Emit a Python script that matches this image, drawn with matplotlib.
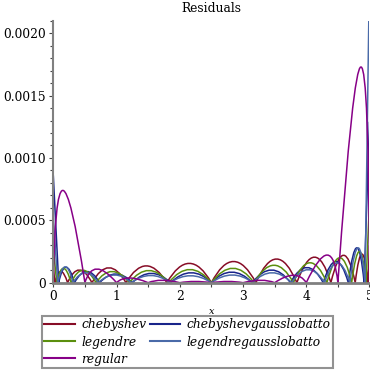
import matplotlib
matplotlib.use('Agg')
import matplotlib.pyplot as plt
from matplotlib.path import Path
from matplotlib.patches import PathPatch
from matplotlib.lines import Line2D
from matplotlib.ticker import MultipleLocator, FuncFormatter

plt.rcParams['font.family'] = 'DejaVu Serif'
plt.rcParams['font.size'] = 8.8

# each series: zeros of |residual| (the nodes), position/height of every arc
# between two zeros, and the residual at x=0 and x=5
names = ['chebyshev', 'chebyshevgausslobatto', 'legendre',
         'legendregausslobatto', 'regular']
colors = ['#870c26', '#19248a', '#5b8f0e', '#4a6aa8', '#870087']

chebyshev_zeros = [0.026, 0.226, 0.611, 1.149, 1.796, 2.5, 3.204, 3.851, 4.389, 4.774, 4.975]
chebyshev_peak_x = [0.12, 0.41, 0.88, 1.47, 2.15, 2.85, 3.53, 4.13, 4.59, 4.88]
chebyshev_peak_y = [0.00009, 0.000102, 0.00012, 0.000135, 0.000155, 0.00017,
                    0.00019, 0.000205, 0.00022, 0.00023]
chebyshev_ends = [0.00012, 0.0003]

cgl_zeros = [0.085, 0.335, 0.732, 1.25, 1.853, 2.5, 3.147, 3.75, 4.268, 4.665, 4.915]
cgl_peak_x = [0.2, 0.53, 0.99, 1.55, 2.18, 2.82, 3.45, 4.01, 4.47, 4.80]
cgl_peak_y = [0.000125, 0.00009, 0.00007, 0.000075, 0.00008, 0.000085,
              0.000102, 0.000122, 0.00017, 0.00028]
cgl_ends = [0.00086, 0.00129]

legendre_zeros = [0.055, 0.282, 0.675, 1.203, 1.826, 2.5, 3.174, 3.797, 4.326, 4.718, 4.946]
legendre_peak_x = [0.16, 0.47, 0.93, 1.51, 2.16, 2.84, 3.49, 4.06, 4.53, 4.84]
legendre_peak_y = [0.000116, 0.0001, 0.00009, 0.000098, 0.000106, 0.000116,
                   0.00014, 0.00016, 0.0002, 0.00025]
legendre_ends = [0.00027, 0.00066]

lgl_zeros = [0.07, 0.31, 0.71, 1.23, 1.845, 2.5, 3.155, 3.77, 4.29, 4.69, 4.93]
lgl_peak_x = [0.19, 0.51, 0.97, 1.54, 2.17, 2.83, 3.46, 4.03, 4.49, 4.82]
lgl_peak_y = [0.000128, 0.00008, 0.000062, 0.000058, 0.000056, 0.000062,
              0.00008, 0.000105, 0.000158, 0.00028]
lgl_ends = [0.00052, 0.0025]

regular_zeros = [0.0, 0.5, 1.0, 1.5, 2.0, 2.5, 3.0, 3.5, 4.0, 4.5, 5.0]
regular_peak_x = [0.15, 0.69, 1.2, 1.72, 2.24, 2.76, 3.28, 3.8, 4.33, 4.865]
regular_peak_y = [0.00074, 0.00011, 0.000038, 0.00002, 0.00001, 0.00001,
                  0.00002, 0.00006, 0.000222, 0.00173]
regular_ends = [0.0, 0.0]

series = [
    (chebyshev_zeros, chebyshev_peak_x, chebyshev_peak_y, chebyshev_ends),
    (cgl_zeros, cgl_peak_x, cgl_peak_y, cgl_ends),
    (legendre_zeros, legendre_peak_x, legendre_peak_y, legendre_ends),
    (lgl_zeros, lgl_peak_x, lgl_peak_y, lgl_ends),
    (regular_zeros, regular_peak_x, regular_peak_y, regular_ends),
]


def residual_path(zeros, peak_x, peak_y, ends):
    # one quadratic bezier per arc, peaking at (peak_x, peak_y)
    verts = [(0.0, ends[0]), (zeros[0], 0.0)]
    codes = [Path.MOVETO, Path.LINETO]
    for a, b, px, py in zip(zeros[:-1], zeros[1:], peak_x, peak_y):
        verts += [(2 * px - (a + b) / 2, 2 * py), (b, 0.0)]
        codes += [Path.CURVE3, Path.CURVE3]
    verts.append((5.0, ends[1]))
    codes.append(Path.LINETO)
    return Path(verts, codes)


fig = plt.figure(figsize=(3.7, 3.7), dpi=100)
ax = fig.add_axes([53.3 / 370, 87.3 / 370, 316.2 / 370, 262 / 370])

for (z, px, py, e), c in zip(series, colors):
    ax.add_patch(PathPatch(residual_path(z, px, py, e), fill=False,
                           edgecolor=c, lw=1.1, joinstyle='round'))

ax.set_xlim(0, 5)
ax.set_ylim(0, 0.0021)
ax.set_title('Residuals', fontsize=8.8, pad=6)
ax.set_xlabel('x', fontsize=7, style='italic', labelpad=3)

for s in ['top', 'right']:
    ax.spines[s].set_visible(False)
ax.spines['bottom'].set_color('#808080')
ax.spines['bottom'].set_linewidth(2)
ax.spines['left'].set_color('#808080')
ax.spines['left'].set_linewidth(1.5)

ax.xaxis.set_major_locator(MultipleLocator(1))
ax.xaxis.set_minor_locator(MultipleLocator(0.5))
ax.yaxis.set_major_locator(MultipleLocator(0.0005))
ax.yaxis.set_minor_locator(MultipleLocator(0.0001))
ax.yaxis.set_major_formatter(FuncFormatter(lambda v, p: '0' if v == 0 else f'{v:.4f}'))
ax.tick_params(which='both', direction='out', color='#444444', width=0.8, pad=2,
               labelsize=8.8)
ax.tick_params(which='major', length=3)
ax.tick_params(which='minor', length=2.5)
ax.tick_params(axis='x', which='minor', length=3)

handles = [Line2D([], [], color=c, lw=1.5) for c in colors]
# matplotlib fills legend columns first; reorder so rows read alphabetically
order = [0, 2, 4, 1, 3]
leg = fig.legend([handles[i] for i in order], [names[i] for i in order],
                 ncol=2, loc='lower left', bbox_to_anchor=(42 / 370, 2 / 370),
                 prop={'style': 'italic', 'size': 8.8}, frameon=True,
                 fancybox=False, edgecolor='#777777', handlelength=2.5,
                 handletextpad=0.5, columnspacing=0.3, labelspacing=0.33,
                 borderpad=0.2, borderaxespad=0)
leg.get_frame().set_linewidth(1.5)

fig.savefig('out.png', dpi=100)
